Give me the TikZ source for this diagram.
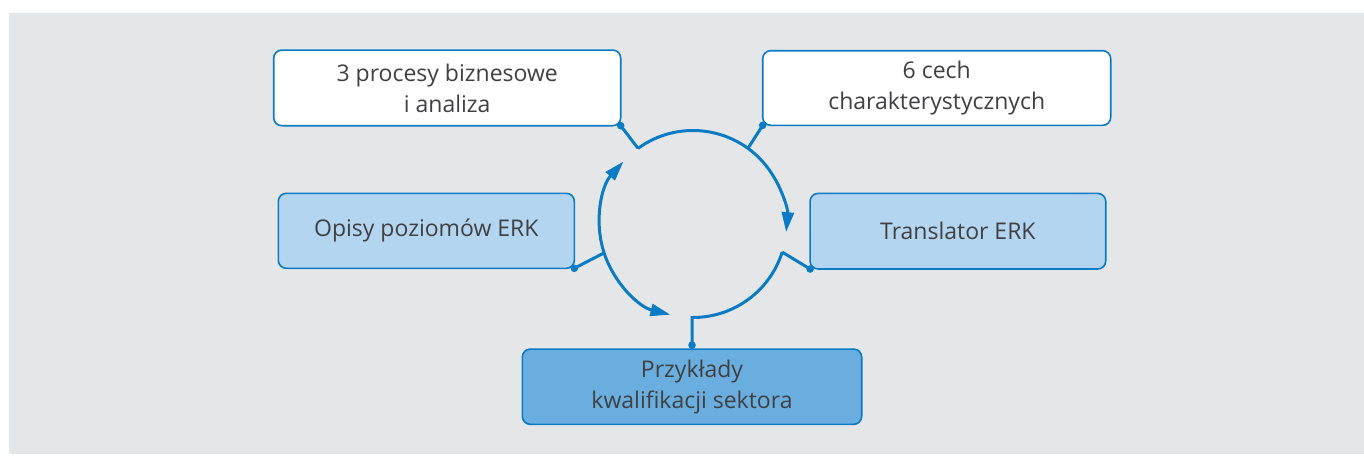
\documentclass[tikz,border=0pt]{standalone}
\usepackage{fontspec}
\setmainfont{Open Sans}
\usetikzlibrary{arrows.meta,calc}
\definecolor{bg}{HTML}{E5E6E8}
\definecolor{lineblue}{HTML}{0A7BC4}
\definecolor{lightfill}{HTML}{B3D5F0}
\definecolor{midfill}{HTML}{6AAEE0}
\definecolor{txt}{HTML}{404042}
\begin{document}
\begin{tikzpicture}[x=0.5pt,y=0.5pt,
 box/.style={draw=lineblue,line width=0.8pt,rounded corners=4pt,inner sep=0pt,outer sep=0pt,align=center,text=txt,font=\fontsize{11.5}{15.5}\selectfont},
 link/.style={draw=lineblue,line width=1.5pt},
 tip/.style={-{Triangle[length=10pt,width=6pt]}},
 dot/.style={circle,fill=lineblue,inner sep=0pt,minimum size=3.8pt}]
\useasboundingbox (0,0) rectangle (1364,-455);
\fill[bg] (9,-13) rectangle (1364,-454);
\node[box,fill=white,minimum width=173.5pt,minimum height=37.8pt] (b1) at (447.2,-87.9) {3 procesy biznesowe\\i analiza};
\node[box,fill=white,minimum width=174pt,minimum height=37.3pt] (b2) at (936.7,-88) {6 cech\\charakterystycznych};
\node[box,fill=lightfill,minimum width=148pt,minimum height=37.5pt] (b3) at (426.3,-230.8) {Opisy poziomów ERK};
\node[box,fill=lightfill,minimum width=147.8pt,minimum height=37.8pt] (b4) at (957.9,-231.2) {Translator ERK};
\node[box,fill=midfill,minimum width=169.7pt,minimum height=37.6pt] (b5) at (692,-386.7) {Przykłady\\kwalifikacji sektora};
\coordinate (c) at (693,-224);
\coordinate (p1) at ($(c)+(126:93.5)$);
\coordinate (p2) at ($(c)+(54:93.5)$);
\coordinate (p3) at ($(c)+(198:93.5)$);
\coordinate (p4) at ($(c)+(-17.5:93.5)$);
\node[dot] (d1) at (b1.south east) {};
\node[dot] (d2) at (b2.south west) {};
\node[dot] (d3) at (b3.south east) {};
\node[dot] (d4) at (b4.south west) {};
\node[dot] (d5) at ($(b5.north)+(0,4)$) {};
\draw[link,tip] (p1) arc[start angle=126,end angle=-5,radius=93.5];
\draw[link] (p4) arc[start angle=-17.5,end angle=-90,radius=93.5] -| (d5.center);
\draw[link,tip] (p3) arc[start angle=198,end angle=138,radius=93.5];
\draw[link,tip] (p3) arc[start angle=198,end angle=256,radius=93.5];
\draw[link] (d1.center) -- (p1);
\draw[link] (d2.center) -- (p2);
\draw[link] (d3.center) -- (p3);
\draw[link] (d4.center) -- (p4);
\end{tikzpicture}
\end{document}
